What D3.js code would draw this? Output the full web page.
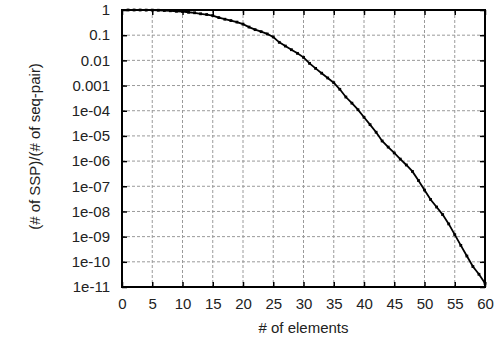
<!DOCTYPE html>
<html><head><meta charset="utf-8">
<script src="https://cdn.jsdelivr.net/npm/d3@7"></script>
<style>body{margin:0;background:#fff}text{font-family:"Liberation Sans",Arial,sans-serif;}</style>
</head><body><svg id="c" width="498" height="342"></svg>
<script>
const elements = d3.range(1, 61);
const ratio = [1, 1, 1, 0.989, 0.989, 0.977, 0.955, 0.933, 0.891, 0.871,
  0.813, 0.776, 0.708, 0.661, 0.603, 0.5, 0.43, 0.38, 0.331, 0.275,
  0.21, 0.166, 0.138, 0.112, 0.085, 0.052, 0.037, 0.0265, 0.019, 0.0132,
  7.6e-3, 4.8e-3, 3.1e-3, 2.0e-3, 1.3e-3, 7.1e-4, 3.5e-4, 2.0e-4, 1.1e-4, 5.5e-5,
  2.8e-5, 1.4e-5, 6.3e-6, 3.6e-6, 2.1e-6, 1.2e-6, 7.0e-7, 3.9e-7, 1.7e-7, 7.1e-8,
  3.0e-8, 1.5e-8, 7.5e-9, 3.2e-9, 1.2e-9, 4.5e-10, 1.7e-10, 6.5e-11, 3.2e-11, 1.4e-11];
const xTicks = [0, 5, 10, 15, 20, 25, 30, 35, 40, 45, 50, 55, 60];
const yTicks = [1, 0.1, 0.01, 0.001, 1e-4, 1e-5, 1e-6, 1e-7, 1e-8, 1e-9, 1e-10, 1e-11];
const yTickLabels = ["1", "0.1", "0.01", "0.001", "1e-04", "1e-05", "1e-06", "1e-07", "1e-08", "1e-09", "1e-10", "1e-11"];

const L = 122, R = 485, T = 10, B = 287;
const svg = d3.select("#c");
const x = d3.scaleLinear().domain([0, 60]).range([L, R]);
const y = d3.scaleLog().domain([1e-11, 1]).range([B, T]);

// grid
const g = svg.append("g");
g.selectAll(".gx").data(xTicks.slice(1, -1)).enter().append("line")
  .attr("x1", d => x(d)).attr("x2", d => x(d)).attr("y1", T).attr("y2", B)
  .attr("stroke", "#9a9a9a").attr("stroke-width", 1).attr("stroke-dasharray", "3,2");
g.selectAll(".gy").data(yTicks.slice(1, -1)).enter().append("line")
  .attr("x1", L).attr("x2", R).attr("y1", d => y(d)).attr("y2", d => y(d))
  .attr("stroke", "#9a9a9a").attr("stroke-width", 1).attr("stroke-dasharray", "3,2");

// axes with inward ticks
const fs = "15px";
const ax = svg.append("g").attr("transform", `translate(0,${B})`)
  .call(d3.axisBottom(x).tickValues(xTicks).tickSize(-5).tickPadding(11));
const axTop = svg.append("g").attr("transform", `translate(0,${T})`)
  .call(d3.axisTop(x).tickValues(xTicks).tickSize(-5).tickFormat(""));
const ay = svg.append("g").attr("transform", `translate(${L},0)`)
  .call(d3.axisLeft(y).tickValues(yTicks).tickSize(-5).tickPadding(12)
    .tickFormat((d, i) => yTickLabels[i]));
const ayR = svg.append("g").attr("transform", `translate(${R},0)`)
  .call(d3.axisRight(y).tickValues(yTicks).tickSize(-5).tickFormat(""));
[ax, axTop, ay, ayR].forEach(a => {
  a.attr("font-size", null).attr("font-family", null);
  a.select(".domain").remove();
  a.selectAll(".tick line").attr("stroke", "#000").attr("stroke-width", 1.5);
  a.selectAll("text").attr("fill", "#222").style("font-size", fs)
    .style("font-family", '"Liberation Sans",Arial,sans-serif');
});

svg.append("rect").attr("x", L).attr("y", T).attr("width", R - L).attr("height", B - T)
  .attr("fill", "none").attr("stroke", "#000").attr("stroke-width", 2);

// line
const pts = elements.map((n, i) => [n, ratio[i]]);
svg.append("path").datum(pts)
  .attr("d", d3.line().x(d => x(d[0])).y(d => y(d[1])))
  .attr("fill", "none").attr("stroke", "#000").attr("stroke-width", 1.8);
svg.selectAll(".pt").data(pts).enter().append("rect")
  .attr("x", d => x(d[0]) - 1.4).attr("y", d => y(d[1]) - 1.4)
  .attr("width", 2.8).attr("height", 2.8).attr("fill", "#000");

// titles
svg.append("text").attr("x", (L + R) / 2).attr("y", 333).attr("text-anchor", "middle")
  .style("font-size", fs).attr("fill", "#222").text("# of elements");
svg.append("text").attr("transform", `translate(40,${(T + B) / 2 - 2}) rotate(-90)`)
  .attr("text-anchor", "middle").style("font-size", fs)
  .attr("fill", "#222").text("(# of SSP)/(# of seq-pair)");
</script></body></html>
